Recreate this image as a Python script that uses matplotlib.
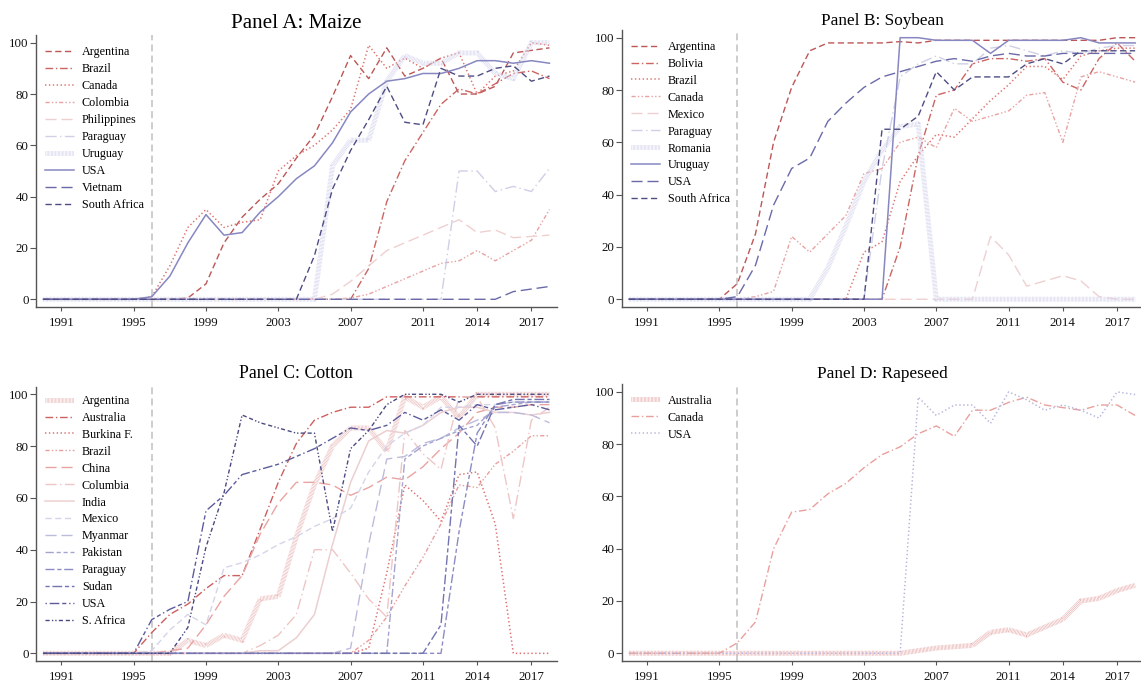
import matplotlib
matplotlib.use("Agg")
import matplotlib.pyplot as plt

plt.rcParams['font.family'] = ['Liberation Serif', 'DejaVu Serif']
plt.rcParams['lines.scale_dashes'] = False

years = list(range(1990, 2019))
x_ticks = [1991, 1995, 1999, 2003, 2007, 2011, 2014, 2017]
y_ticks = [0, 20, 40, 60, 80, 100]
launch_year = 1996

# ---------------- Panel A: Maize (adoption share, %) ----------------
maize_countries = ["Argentina", "Brazil", "Canada", "Colombia", "Philippines",
                   "Paraguay", "Uruguay", "USA", "Vietnam", "South Africa"]
maize_argentina = [0, 0, 0, 0, 0, 0, 0, 0, 0.5, 6, 22, 32, 39, 45, 55, 64, 79, 95, 86, 98,
                   87, 90, 94, 80, 80, 83, 96, 97, 98]
maize_brazil = [0, 0, 0, 0, 0, 0, 0, 0, 0, 0, 0, 0, 0, 0, 0, 0, 0, 0, 12, 38,
                54, 65, 76, 82, 80, 84, 88, 89, 86]
maize_canada = [0, 0, 0, 0, 0, 0, 1, 13, 28, 35, 28, 30, 31, 50, 56, 60, 66, 74, 99, 90,
                94, 90, 94, 96, 80, 87, 89, 100, 99]
maize_colombia = [0, 0, 0, 0, 0, 0, 0, 0, 0, 0, 0, 0, 0, 0, 0, 0, 0, 0.5, 2, 5,
                  8, 11, 14, 15, 19, 15, 19, 23, 35]
maize_philippines = [0, 0, 0, 0, 0, 0, 0, 0, 0, 0, 0, 0, 0, 0, 0, 0, 2, 7, 13, 19,
                     22, 25, 28, 31, 26, 27, 24, 24.5, 25]
maize_paraguay = [0, 0, 0, 0, 0, 0, 0, 0, 0, 0, 0, 0, 0, 0, 0, 0, 0, 0, 0, 0,
                  0, 0, 0, 50, 50, 42, 44, 42, 51]
maize_uruguay = [0, 0, 0, 0, 0, 0, 0, 0, 0, 0, 0, 0, 0, 0, 0, 0, 52, 62, 62, 85,
                 95, 92, 92, 96, 96, 88, 86, 100, 100]
maize_usa = [0, 0, 0, 0, 0, 0, 1, 9, 22, 33, 25, 26, 34, 40, 47, 52, 61, 73, 80, 85,
             86, 88, 88, 90, 93, 93, 92, 93, 92]
maize_vietnam = [0, 0, 0, 0, 0, 0, 0, 0, 0, 0, 0, 0, 0, 0, 0, 0, 0, 0, 0, 0,
                 0, 0, 0, 0, 0, 0, 3, 4, 5]
maize_south_africa = [0, 0, 0, 0, 0, 0, 0, 0, 0, 0, 0, 0, 0, 0, 0, 17, 43, 58, 70, 83,
                      69, 68, 90, 87, 87, 90, 91, 85, 87]

# ---------------- Panel B: Soybean ----------------
soy_countries = ["Argentina", "Bolivia", "Brazil", "Canada", "Mexico",
                 "Paraguay", "Romania", "Uruguay", "USA", "South Africa"]
soy_argentina = [0, 0, 0, 0, 0, 0, 6, 25, 60, 81, 95, 98, 98, 98, 98, 98.5, 98, 99, 99, 99,
                 99, 99, 99, 99, 99, 99, 99, 100, 100]
soy_bolivia = [0, 0, 0, 0, 0, 0, 0, 0, 0, 0, 0, 0, 0, 0, 0, 20, 55, 78, 80, 90,
               92, 92, 91, 92, 83, 80, 92, 98, 91]
soy_brazil = [0, 0, 0, 0, 0, 0, 0, 0, 0, 0, 0, 0, 0, 18, 22, 45, 55, 63, 62, 69,
              76, 82, 89, 89, 84, 93, 95, 96, 96]
soy_canada = [0, 0, 0, 0, 0, 0, 0, 1, 3, 24, 18, 25, 32, 48, 50, 60, 62, 58, 73, 68,
              70, 72, 78, 79, 60, 85, 87, 85, 83]
soy_mexico = [0, 0, 0, 0, 0, 0, 0, 0, 0, 0, 0, 0, 0, 0, 0, 0, 0, 0, 0, 0,
              24, 17, 5, 7, 9, 7, 1, 0, 0]
soy_paraguay = [0, 0, 0, 0, 0, 0, 0, 0, 0, 0, 0, 0, 0, 0, 50, 85, 90, 93, 90, 90,
                96, 97, 95, 93, 95, 94, 96, 97, 97]
soy_romania = [0, 0, 0, 0, 0, 0, 0, 0, 0, 0, 0, 12, 28, 45, 57, 66, 67, 0, 0, 0,
               0, 0, 0, 0, 0, 0, 0, 0, 0]
soy_uruguay = [0, 0, 0, 0, 0, 0, 0, 0, 0, 0, 0, 0, 0, 0, 0, 100, 100, 99, 99, 99,
               94, 99, 99, 99, 99, 100, 98, 98, 98]
soy_usa = [0, 0, 0, 0, 0, 0, 1, 13, 36, 50, 54, 68, 75, 81, 85, 87, 89, 91, 92, 91,
           93, 94, 93, 93, 94, 94, 94, 94, 94]
soy_south_africa = [0, 0, 0, 0, 0, 0, 0, 0, 0, 0, 0, 0, 0, 0, 65, 65, 70, 87, 80, 85,
                    85, 85, 90, 92, 90, 95, 95, 95, 95]

# ---------------- Panel C: Cotton ----------------
cotton_countries = ["Argentina", "Australia", "Burkina F.", "Brazil", "China",
                    "Columbia", "India", "Mexico", "Myanmar", "Pakistan",
                    "Paraguay", "Sudan", "USA", "S. Africa"]
cot_argentina = [0, 0, 0, 0, 0, 0, 0, 0, 5, 3, 7, 5, 21, 22, 45, 65, 80, 87, 87, 78,
                 99, 95, 99, 91, 100, 100, 100, 100, 100]
cot_australia = [0, 0, 0, 0, 0, 0, 8, 15, 19, 25, 30, 30, 48, 66, 81, 90, 93, 95, 95, 99,
                 99, 99, 99, 99, 99, 99, 99, 99, 99]
cot_burkina = [0, 0, 0, 0, 0, 0, 0, 0, 0, 0, 0, 0, 0, 0, 0, 0, 0, 0, 2, 31,
               65, 59, 51, 69, 70, 50, 0, 0, 0]
cot_brazil = [0, 0, 0, 0, 0, 0, 0, 0, 0, 0, 0, 0, 0, 0, 0, 0, 0, 0, 5, 14,
              26, 37, 50, 65, 64, 73, 78, 84, 84]
cot_china = [0, 0, 0, 0, 0, 0, 0, 1, 2, 11, 22, 30, 46, 58, 66, 66, 65, 61, 64, 68,
             67, 72, 79, 85, 93, 95, 95, 96, 96]
cot_columbia = [0, 0, 0, 0, 0, 0, 0, 0, 0, 0, 0, 0, 3, 7, 15, 40, 40, 31, 21, 14,
                86, 77, 71, 99, 99, 87, 52, 90, 95]
cot_india = [0, 0, 0, 0, 0, 0, 0, 0, 0, 0, 0, 0, 1, 1, 6, 15, 42, 66, 82, 86,
             85, 88, 93, 95, 95, 93, 93, 92, 93]
cot_mexico = [0, 0, 0, 0, 0, 0, 1, 9, 15, 11, 33, 35, 38, 42, 45, 49, 52, 56, 70, 80,
              85, 88, 95, 95, 96, 96, 97, 97, 97]
cot_myanmar = [0, 0, 0, 0, 0, 0, 0, 0, 0, 0, 0, 0, 0, 0, 0, 0, 0, 2, 42, 75,
               76, 81, 83, 87, 90, 93, 93, 92, 89]
cot_pakistan = [0, 0, 0, 0, 0, 0, 0, 0, 0, 0, 0, 0, 0, 0, 0, 0, 0, 0, 0, 0,
                75, 80, 83, 86, 88, 95, 96, 97, 97]
cot_paraguay = [0, 0, 0, 0, 0, 0, 0, 0, 0, 0, 0, 0, 0, 0, 0, 0, 0, 0, 0, 0,
                0, 0, 0, 47, 85, 96, 97, 97, 97]
cot_sudan = [0, 0, 0, 0, 0, 0, 0, 0, 0, 0, 0, 0, 0, 0, 0, 0, 0, 0, 0, 0,
             0, 0, 11, 88, 80, 96, 98, 98, 98]
cot_usa = [0, 0, 0, 0, 0, 0, 13, 17, 20, 55, 61, 69, 71, 73, 76, 79, 83, 87, 86, 88,
           93, 90, 94, 90, 96, 94, 95, 96, 94]
cot_south_africa = [0, 0, 0, 0, 0, 0, 0, 0, 10, 41, 62, 92, 89, 87, 85, 85, 47, 79, 86, 96,
                    100, 100, 100, 97, 100, 100, 100, 100, 100]

# ---------------- Panel D: Rapeseed ----------------
rape_countries = ["Australia", "Canada", "USA"]
rape_australia = [0, 0, 0, 0, 0, 0, 0, 0, 0, 0, 0, 0, 0, 0, 0, 0, 1, 2, 2.5, 3,
                  8, 9, 7, 10, 13, 20, 21, 24, 26]
rape_canada = [0, 0, 0, 0, 0, 0, 4, 12, 40, 54, 55, 61, 65, 71, 76, 79, 84, 87, 83, 93,
               93, 96, 98, 95, 94, 93, 95, 95, 91]
rape_usa = [0, 0, 0, 0, 0, 0, 0, 0, 0, 0, 0, 0, 0, 0, 0, 0, 98, 91, 95, 95,
            88, 100, 97, 93, 95, 93, 90, 100, 99]

# ---------------- line styles (dash patterns in points) ----------------
STYLES = {
    "dash":        dict(lw=1.0, dashes=(4.5, 2.5)),
    "dashdot":     dict(lw=1.0, dashes=(5.5, 2.0, 1.0, 2.0)),
    "dot":         dict(lw=1.1, dashes=(1.0, 1.8)),
    "dashdotdot":  dict(lw=1.0, dashes=(3.0, 1.6, 1.0, 1.6, 1.0, 1.6)),
    "longdash":    dict(lw=1.0, dashes=(8.0, 3.5)),
    "longdashdot": dict(lw=1.0, dashes=(8.0, 2.5, 1.0, 2.5)),
    "hatch":       dict(lw=3.6, dashes=(0.45, 0.55)),
    "solid":       dict(lw=1.1),
    "longshort":   dict(lw=1.0, dashes=(6.0, 2.0, 3.0, 2.0, 3.0, 2.0)),
    "longshort2":  dict(lw=1.0, dashes=(6.5, 2.0, 3.0, 2.0)),
    "shortlong":   dict(lw=1.0, dashes=(3.0, 2.0, 7.0, 2.0)),
    "dotlongshort": dict(lw=1.0, dashes=(1.0, 2.0, 7.0, 2.0, 3.0, 2.0)),
    "dashdotdotdash": dict(lw=1.0, dashes=(3.0, 1.6, 1.0, 1.4, 1.0, 1.6, 3.0, 2.0)),
}

panels = [
    dict(title="Panel A: Maize", tsize=15.2, tbase=28.3,
         box=(36, 556.7, 35.0, 307.0), legend=(45, 46.3),
         names=maize_countries,
         series=[maize_argentina, maize_brazil, maize_canada, maize_colombia,
                 maize_philippines, maize_paraguay, maize_uruguay, maize_usa,
                 maize_vietnam, maize_south_africa],
         colors=["#bd5656", "#cc6461", "#de7570", "#e8a2a2", "#efd0d1",
                 "#cfcfe6", "#d7d7ee", "#8787c1", "#6a6aa8", "#4d4d84"],
         styles=["dash", "dashdot", "dot", "dashdotdot", "longdash",
                 "longdashdot", "hatch", "solid", "longdash", "dash"]),
    dict(title="Panel B: Soybean", tsize=12.4, tbase=25.0,
         box=(621.7, 1142.4, 29.85, 307.1), legend=(631, 40.8),
         names=soy_countries,
         series=[soy_argentina, soy_bolivia, soy_brazil, soy_canada, soy_mexico,
                 soy_paraguay, soy_romania, soy_uruguay, soy_usa, soy_south_africa],
         colors=["#bd5656", "#cc6461", "#de7570", "#e8a2a2", "#efd0d1",
                 "#cfcfe6", "#d7d7ee", "#8787c1", "#6a6aa8", "#4d4d84"],
         styles=["dash", "dashdot", "dot", "dashdotdot", "longdash",
                 "longdashdot", "hatch", "solid", "longdash", "dash"]),
    dict(title="Panel C: Cotton", tsize=12.8, tbase=378.5,
         box=(36, 556.7, 386.5, 661.1), legend=(45, 394.8),
         names=cotton_countries,
         series=[cot_argentina, cot_australia, cot_burkina, cot_brazil, cot_china,
                 cot_columbia, cot_india, cot_mexico, cot_myanmar, cot_pakistan,
                 cot_paraguay, cot_sudan, cot_usa, cot_south_africa],
         colors=["#ebbdbd", "#cd5f5f", "#df7070", "#e89e9e", "#e8a4a2",
                 "#efc6c6", "#eccfd0", "#d5d5ea", "#bcbcdd", "#a4a4d0",
                 "#8c8cc4", "#7474b1", "#5c5c9c", "#4a4a82"],
         styles=["hatch", "dashdot", "dot", "dashdotdot", "longdash",
                 "longdashdot", "solid", "dash", "longdash", "longshort",
                 "longshort2", "shortlong", "dotlongshort", "dashdotdotdash"]),
    dict(title="Panel D: Rapeseed", tsize=12.4, tbase=378.5,
         box=(621.7, 1142.4, 384.1, 661.1), legend=(631, 394.6),
         names=rape_countries,
         series=[rape_australia, rape_canada, rape_usa],
         colors=["#e9b3b3", "#e9a09c", "#b6b6dc"],
         styles=["hatch", "dashdot", "dot"]),
]

W, H = 1141, 685
fig = plt.figure(figsize=(W / 100, H / 100), dpi=100)
axis_grey = "#555555"

for p in panels:
    left, right, top, bottom = p["box"]
    ax = fig.add_axes([left / W, 1 - bottom / H, (right - left) / W, (bottom - top) / H])
    ax.set_xlim(1989.6, 2018.4)
    ax.set_ylim(-3, 103)
    ax.axvline(launch_year, color="#c9c9c9", lw=1.3, dashes=(5, 3), zorder=1)

    for name, vals, col, sty in zip(p["names"], p["series"], p["colors"], p["styles"]):
        ax.plot(years, vals, color=col, label=name, zorder=2, **STYLES[sty])

    ax.set_xticks(x_ticks)
    ax.set_yticks(y_ticks)
    for side in ("top", "right"):
        ax.spines[side].set_visible(False)
    for side in ("left", "bottom"):
        ax.spines[side].set_color(axis_grey)
        ax.spines[side].set_linewidth(1.0)
    ax.tick_params(axis="y", length=4.3, width=0.8, pad=1.0, color=axis_grey,
                   labelsize=9.3, labelcolor="#111111")
    ax.tick_params(axis="x", length=3.0, width=0.8, pad=4.0, color=axis_grey,
                   labelsize=9.3, labelcolor="#111111")

    lx, ly = p["legend"]
    ax.legend(loc="upper left", bbox_to_anchor=(lx / W, 1 - ly / H),
              bbox_transform=fig.transFigure, frameon=False, fontsize=8.7,
              borderpad=0, borderaxespad=0, handlelength=2.4, handletextpad=0.65,
              labelspacing=0.41)

    fig.text(((left + right) / 2) / W, 1 - p["tbase"] / H, p["title"],
             ha="center", va="baseline", fontsize=p["tsize"], color="#000000")

fig.savefig("out.png", dpi=100)
